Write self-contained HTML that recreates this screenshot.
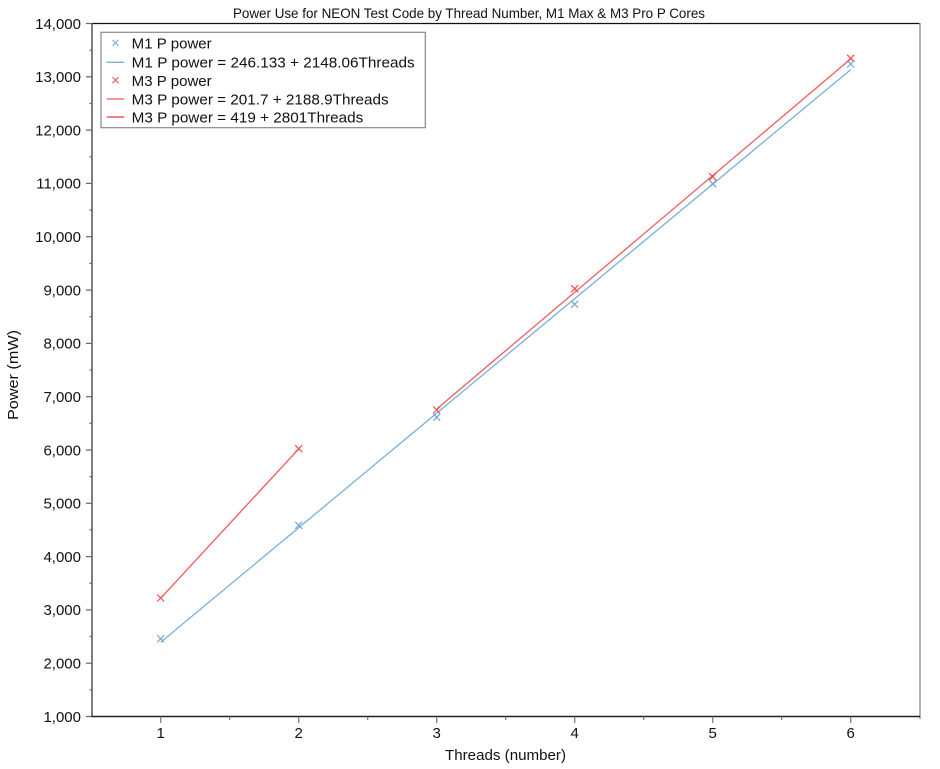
<!DOCTYPE html>
<html><head><meta charset="utf-8"><style>
html,body{margin:0;padding:0;background:#fff;}
svg{display:block;font-family:"Liberation Sans",Arial,sans-serif;}
</style></head><body>
<svg width="940" height="769" viewBox="0 0 940 769" xmlns="http://www.w3.org/2000/svg">
<rect width="940" height="769" fill="#fff"/>
<!-- title -->
<text x="233" y="18" font-size="14" fill="#111" textLength="472" lengthAdjust="spacingAndGlyphs">Power Use for NEON Test Code by Thread Number, M1 Max &amp; M3 Pro P Cores</text>
<!-- frame -->
<line x1="92" y1="23.5" x2="920" y2="23.5" stroke="#111" stroke-width="1.2"/>
<line x1="920" y1="23" x2="920" y2="719" stroke="#999" stroke-width="1.5"/>
<line x1="92" y1="23" x2="92" y2="717" stroke="#555" stroke-width="1.5"/>
<line x1="91" y1="716.5" x2="920" y2="716.5" stroke="#222" stroke-width="1.5"/>
<!-- y ticks -->
<g stroke="#666" stroke-width="1.2">
<line x1="86" y1="23.5" x2="92" y2="23.5"/><line x1="86" y1="76.8" x2="92" y2="76.8"/><line x1="86" y1="130.1" x2="92" y2="130.1"/><line x1="86" y1="183.4" x2="92" y2="183.4"/><line x1="86" y1="236.7" x2="92" y2="236.7"/><line x1="86" y1="290.1" x2="92" y2="290.1"/><line x1="86" y1="343.4" x2="92" y2="343.4"/><line x1="86" y1="396.7" x2="92" y2="396.7"/><line x1="86" y1="450" x2="92" y2="450"/><line x1="86" y1="503.3" x2="92" y2="503.3"/><line x1="86" y1="556.6" x2="92" y2="556.6"/><line x1="86" y1="609.9" x2="92" y2="609.9"/><line x1="86" y1="663.2" x2="92" y2="663.2"/><line x1="86" y1="716.5" x2="92" y2="716.5"/>
<line x1="89.5" y1="50.2" x2="92" y2="50.2"/><line x1="89.5" y1="103.5" x2="92" y2="103.5"/><line x1="89.5" y1="156.8" x2="92" y2="156.8"/><line x1="89.5" y1="210.1" x2="92" y2="210.1"/><line x1="89.5" y1="263.4" x2="92" y2="263.4"/><line x1="89.5" y1="316.7" x2="92" y2="316.7"/><line x1="89.5" y1="370" x2="92" y2="370"/><line x1="89.5" y1="423.3" x2="92" y2="423.3"/><line x1="89.5" y1="476.6" x2="92" y2="476.6"/><line x1="89.5" y1="529.9" x2="92" y2="529.9"/><line x1="89.5" y1="583.2" x2="92" y2="583.2"/><line x1="89.5" y1="636.5" x2="92" y2="636.5"/><line x1="89.5" y1="689.8" x2="92" y2="689.8"/>
</g>
<g font-size="15" fill="#111" text-anchor="end">
<text x="81" y="28.8">14,000</text><text x="81" y="82.1">13,000</text><text x="81" y="135.4">12,000</text><text x="81" y="188.7">11,000</text><text x="81" y="242">10,000</text><text x="81" y="295.4">9,000</text><text x="81" y="348.7">8,000</text><text x="81" y="402">7,000</text><text x="81" y="455.3">6,000</text><text x="81" y="508.6">5,000</text><text x="81" y="561.9">4,000</text><text x="81" y="615.2">3,000</text><text x="81" y="668.5">2,000</text><text x="81" y="721.8">1,000</text>
</g>
<!-- x ticks -->
<g stroke="#777" stroke-width="1.2">
<line x1="160.7" y1="716.5" x2="160.7" y2="723"/><line x1="298.7" y1="716.5" x2="298.7" y2="723"/><line x1="436.7" y1="716.5" x2="436.7" y2="723"/><line x1="574.7" y1="716.5" x2="574.7" y2="723"/><line x1="712.7" y1="716.5" x2="712.7" y2="723"/><line x1="850.7" y1="716.5" x2="850.7" y2="723"/>
<line x1="229.7" y1="716.5" x2="229.7" y2="720"/><line x1="367.7" y1="716.5" x2="367.7" y2="720"/><line x1="505.7" y1="716.5" x2="505.7" y2="720"/><line x1="643.7" y1="716.5" x2="643.7" y2="720"/><line x1="781.7" y1="716.5" x2="781.7" y2="720"/>
</g>
<g font-size="15" fill="#111" text-anchor="middle">
<text x="160.7" y="738">1</text><text x="298.7" y="738">2</text><text x="436.7" y="738">3</text><text x="574.7" y="738">4</text><text x="712.7" y="738">5</text><text x="850.7" y="738">6</text>
</g>
<!-- axis titles -->
<text x="445" y="760" font-size="14.5" fill="#111" textLength="121" lengthAdjust="spacingAndGlyphs">Threads (number)</text>
<text transform="translate(18,420) rotate(-90)" font-size="15" fill="#111" textLength="90" lengthAdjust="spacingAndGlyphs">Power (mW)</text>
<!-- series lines -->
<line x1="160.7" y1="642.2" x2="850.7" y2="69.6" stroke="#7ab0dc" stroke-width="1.3"/>
<line x1="436.7" y1="409" x2="850.7" y2="58.9" stroke="#f05a5a" stroke-width="1.3"/>
<line x1="160.7" y1="598.2" x2="298.7" y2="448.9" stroke="#f05a5a" stroke-width="1.3"/>
<!-- markers -->
<g stroke="#6fa6d6" stroke-width="1.2" fill="none">
<path d="M157.2 635.2l7 7M164.2 635.2l-7 7"/>
<path d="M295.2 521.8l7 7M302.2 521.8l-7 7"/>
<path d="M433.2 413.8l7 7M440.2 413.8l-7 7"/>
<path d="M571.2 300.8l7 7M578.2 300.8l-7 7"/>
<path d="M709.2 180.2l7 7M716.2 180.2l-7 7"/>
<path d="M847.2 60.5l7 7M854.2 60.5l-7 7"/>
</g>
<g stroke="#ee4b4b" stroke-width="1.2" fill="none">
<path d="M157.2 594.5l7 7M164.2 594.5l-7 7"/>
<path d="M295.2 445.2l7 7M302.2 445.2l-7 7"/>
<path d="M433.2 406.5l7 7M440.2 406.5l-7 7"/>
<path d="M571.2 285.2l7 7M578.2 285.2l-7 7"/>
<path d="M709.2 173.2l7 7M716.2 173.2l-7 7"/>
<path d="M847.2 54.8l7 7M854.2 54.8l-7 7"/>
</g>
<!-- legend -->
<rect x="101" y="32.3" width="324.3" height="95.4" fill="#fff" stroke="#888" stroke-width="1.2"/>
<path d="M112.5 39.8l6 6M118.5 39.8l-6 6" stroke="#7ab0dc" stroke-width="1.1"/>
<line x1="106.7" y1="62.3" x2="124.3" y2="62.3" stroke="#7ab0dc" stroke-width="1.3"/>
<path d="M112.5 77.2l6 6M118.5 77.2l-6 6" stroke="#f05a5a" stroke-width="1.1"/>
<line x1="106.7" y1="99" x2="124.3" y2="99" stroke="#f05a5a" stroke-width="1.3"/>
<line x1="106.7" y1="117" x2="124.3" y2="117" stroke="#e83c3c" stroke-width="1.3"/>
<g font-size="15" fill="#111">
<text x="131.7" y="48.6" textLength="80" lengthAdjust="spacingAndGlyphs">M1 P power</text>
<text x="131.7" y="67.6" textLength="283" lengthAdjust="spacingAndGlyphs">M1 P power = 246.133 + 2148.06Threads</text>
<text x="131.7" y="86" textLength="80" lengthAdjust="spacingAndGlyphs">M3 P power</text>
<text x="131.7" y="104.3" textLength="257" lengthAdjust="spacingAndGlyphs">M3 P power = 201.7 + 2188.9Threads</text>
<text x="131.7" y="122.3" textLength="231.6" lengthAdjust="spacingAndGlyphs">M3 P power = 419 + 2801Threads</text>
</g>
</svg>
</body></html>
